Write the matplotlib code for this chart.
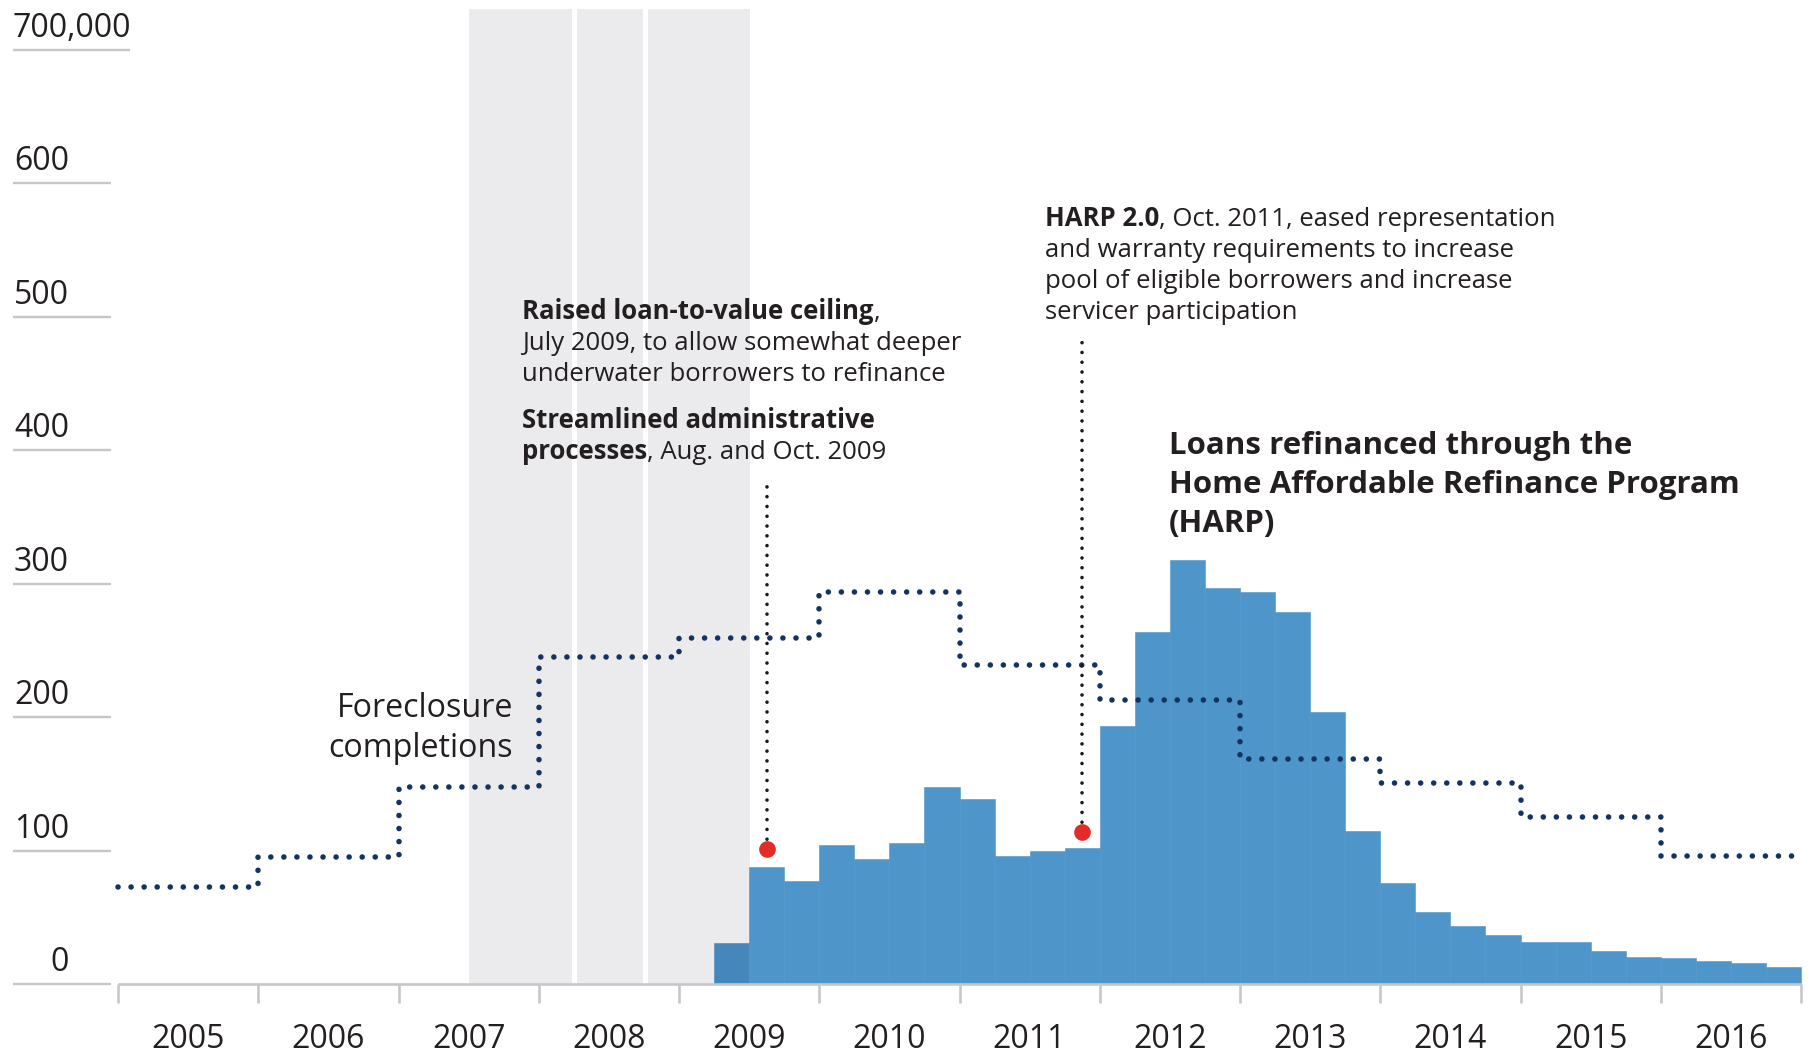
import matplotlib
matplotlib.use("Agg")
import matplotlib.pyplot as plt
from matplotlib.patches import Rectangle

# ---------------- data ----------------
years = list(range(2005, 2017))
year_labels = [str(y) for y in years]
# Foreclosure completions, thousands per year (annual step)
foreclosures = [73, 95, 148, 245, 259, 294, 239, 213, 169, 151, 125, 96]
# HARP refinances, thousands per quarter, starting 2009 Q2
harp_start = 2009.25
harp = [31, 88, 77,
        104, 94, 106, 148,
        139, 96, 100, 102,
        193, 264, 318, 297,
        294, 279, 204, 115,
        76, 54, 43.5, 37,
        31.5, 31.5, 25, 20,
        19.5, 17, 15.5, 12.5]
# shaded periods (years)
shade_start = [2007.50, 2008.27, 2008.78]
shade_end = [2008.24, 2008.74, 2009.505]
shade_top = 731
# program change events
event_x = [2009.625, 2011.875]
event_y = [101, 114]
event_leader_top = [378, 482]
ytick_vals = [0, 100, 200, 300, 400, 500, 600, 700]
ytick_labels = ["0", "100", "200", "300", "400", "500", "600", "700,000"]

# ---------------- layout ----------------
W, H = 1814, 1057
X0, PXY = 118.0, 140.25      # px of 2005 start, px per year
Y0, PPU = 984.0, 1.3343      # px of zero, px per thousand

FONT = ["Open Sans", "DejaVu Sans"]
TXT = "#231f20"
GRAY = "#c6c7c9"
BLUE = "#4e95ca"
BLUE_DARK = "#4587bb"
NAVY = "#14335f"
RED = "#e32b27"

fig = plt.figure(figsize=(W / 100, H / 100), dpi=100)
ax = fig.add_axes([0, 0, 1, 1])
ax.set_xlim(2005 - X0 / PXY, 2005 + (W - X0) / PXY)
ax.set_ylim(-(H - Y0) / PPU, Y0 / PPU)
ax.axis("off")


def xpx(px):
    return 2005 + (px - X0) / PXY


def ypx(py):
    return (Y0 - py) / PPU


# shading
for a, b in zip(shade_start, shade_end):
    ax.add_patch(Rectangle((a, 0), b - a, shade_top, facecolor="#ebebed",
                           edgecolor="none", zorder=1))

# bars
xq = [harp_start + 0.25 * i + 0.125 for i in range(len(harp))]
cols = []
for x in xq:
    inside = any(a <= x <= b for a, b in zip(shade_start, shade_end))
    cols.append(BLUE_DARK if inside else BLUE)
ax.bar(xq, harp, width=0.25, color=cols, edgecolor=cols, linewidth=0.4, zorder=2)

# axis baseline and ticks
ax.plot([2005, 2017], [0, 0], color=GRAY, lw=1.9, zorder=3, solid_capstyle="butt")
ax.vlines(years + [2017], ypx(1003), 0, color=GRAY, lw=1.9, zorder=3)
for y, lab in zip(years, year_labels):
    ax.text(y + 0.5, ypx(1048), lab, ha="center", va="baseline",
            fontsize=23, color=TXT, family=FONT)

# y "ticks": short lines with labels above
for v, lab in zip(ytick_vals, ytick_labels):
    right = 130 if lab == ytick_labels[-1] else 111
    ax.plot([xpx(13), xpx(right)], [v, v], color=GRAY, lw=1.7,
            solid_capstyle="butt", zorder=3)
    if lab == ytick_labels[-1]:
        ax.text(xpx(13), v + 13 / PPU, lab, ha="left", va="baseline",
                fontsize=23, color=TXT, family=FONT)
    else:
        ax.text(xpx(69), v + 13 / PPU, lab, ha="right", va="baseline",
                fontsize=23, color=TXT, family=FONT)

# foreclosure step line (dotted)
fx = years + [2017]
fy = foreclosures + [foreclosures[-1]]
ax.plot(fx, fy, drawstyle="steps-post", color=NAVY, lw=4.0,
        linestyle=(0, (0.01, 2.34)), dash_capstyle="round", zorder=4)

# event leaders and dots
for ex, ey, top in zip(event_x, event_y, event_leader_top):
    ax.plot([ex, ex], [ey, top], color="#1a1a1a", lw=2.6,
            linestyle=(0, (0.01, 2.7)), dash_capstyle="round", zorder=5)
    ax.plot([ex], [ey], marker="o", ms=12, color=RED, mec="none", zorder=6)

# ---------------- texts ----------------
ax.text(xpx(513), ypx(717), "Foreclosure", ha="right", va="baseline",
        fontsize=23.2, color=TXT, family=FONT)
ax.text(xpx(513), ypx(757), "completions", ha="right", va="baseline",
        fontsize=23.2, color=TXT, family=FONT)

renderer = fig.canvas.get_renderer()


def rich(x0, ybase, runs, size):
    x = x0
    for s, w in runs:
        t = ax.text(xpx(x), ypx(ybase), s, ha="left", va="baseline",
                    fontsize=size, fontweight=w, color=TXT, family=FONT, zorder=7)
        bb = t.get_window_extent(renderer=renderer)
        x += bb.width


AS = 18.5
rich(522, 319, [("Raised loan-to-value ceiling", "bold"), (",", "normal")], AS)
rich(522, 350, [("July 2009, to allow somewhat deeper", "normal")], AS)
rich(522, 381, [("underwater borrowers to refinance", "normal")], AS)
rich(522, 428, [("Streamlined administrative", "bold")], AS)
rich(522, 459, [("processes", "bold"), (", Aug. and Oct. 2009", "normal")], AS)

rich(1045, 226, [("HARP 2.0", "bold"), (", Oct. 2011, eased representation", "normal")], AS)
rich(1045, 257, [("and warranty requirements to increase", "normal")], AS)
rich(1045, 288, [("pool of eligible borrowers and increase", "normal")], AS)
rich(1045, 319, [("servicer participation", "normal")], AS)

for i, line in enumerate(["Loans refinanced through the",
                          "Home Affordable Refinance Program",
                          "(HARP)"]):
    ax.text(xpx(1169), ypx(454 + 39 * i), line, ha="left", va="baseline",
            fontsize=22.5, fontweight="bold", color=TXT, family=FONT, zorder=7)

fig.savefig("out.png", dpi=100, facecolor="white")
